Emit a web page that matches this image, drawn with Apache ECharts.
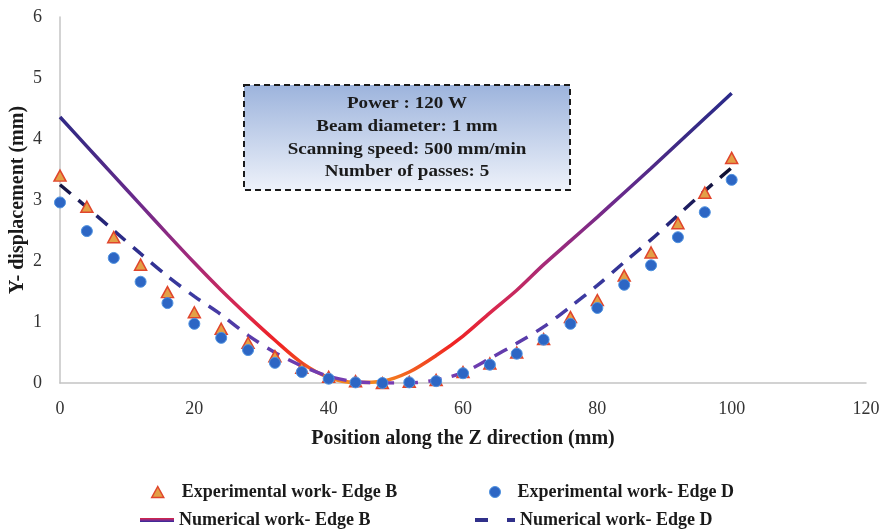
<!DOCTYPE html>
<html>
<head>
<meta charset="utf-8">
<script src="https://cdn.jsdelivr.net/npm/echarts@6/dist/echarts.min.js"></script>
<style>
html,body{margin:0;padding:0;background:#fff;}
#chart{width:885px;height:532px;}
</style>
</head>
<body>
<div id="chart"></div>
<script>
// ---- data ----
var positions = [0,4,8,12,16,20,24,28,32,36,40,44,48,52,56,60,64,68,72,76,80,84,88,92,96,100];
var expEdgeB = [3.40,2.89,2.39,1.94,1.49,1.16,0.89,0.66,0.44,0.25,0.10,0.03,0.00,0.02,0.05,0.18,0.32,0.50,0.72,1.08,1.36,1.76,2.14,2.62,3.12,3.69];
var expEdgeD = [2.96,2.49,2.05,1.66,1.31,0.97,0.74,0.54,0.33,0.18,0.07,0.01,0.00,0.01,0.03,0.16,0.30,0.48,0.71,0.97,1.23,1.61,1.93,2.39,2.80,3.33];
var numEdgeB = [4.36,3.88,3.40,2.92,2.44,1.97,1.52,1.10,0.70,0.33,0.09,0.01,0.03,0.18,0.45,0.77,1.15,1.52,1.94,2.33,2.72,3.12,3.52,3.93,4.34,4.75];
var numEdgeD = [3.25,2.88,2.50,2.12,1.75,1.42,1.12,0.78,0.50,0.28,0.11,0.02,0.00,0.00,0.05,0.17,0.40,0.65,0.92,1.25,1.60,1.98,2.35,2.75,3.15,3.53];
var seriesNames = ['Experimental work- Edge B','Experimental work- Edge D','Numerical work- Edge B','Numerical work- Edge D'];
var xTitle = 'Position along the Z direction (mm)';
var yTitle = 'Y- displacement (mm)';
var boxLines = ['Power : 120 W','Beam diameter: 1 mm','Scanning speed: 500 mm/min','Number of passes: 5'];

function pairs(ys){ return positions.map(function(x,i){ return [x, ys[i]]; }); }

var FONT = '"Liberation Serif","Times New Roman",serif';

var gradB = new echarts.graphic.LinearGradient(0,0,0,1,[
  {offset:0, color:'#2a2a8a'},
  {offset:0.16, color:'#3a2a84'},
  {offset:0.37, color:'#6a2a8c'},
  {offset:0.58, color:'#a42a7a'},
  {offset:0.74, color:'#d82850'},
  {offset:0.86, color:'#f02222'},
  {offset:0.96, color:'#f26220'},
  {offset:1, color:'#f5901e'}
]);
var gradD = new echarts.graphic.LinearGradient(0,0,0,1,[
  {offset:0, color:'#0e0e28'},
  {offset:0.15, color:'#1a1a55'},
  {offset:0.3, color:'#2a2a85'},
  {offset:0.58, color:'#3a3aa0'},
  {offset:0.8, color:'#5c3cab'},
  {offset:1, color:'#7a3cb2'}
]);
var legendLineB = new echarts.graphic.LinearGradient(0,0,0,1,[
  {offset:0, color:'#e0243a'},{offset:0.5, color:'#8a2a8c'},{offset:1, color:'#2a2a9a'}
]);

var legendText = {fontFamily:FONT, fontWeight:'bold', fontSize:18, color:'#1a1a1a'};

var chart = echarts.init(document.getElementById('chart'), null, {renderer:'canvas'});
chart.setOption({
  animation:false,
  backgroundColor:'#ffffff',
  grid:{left:60, right:19, top:17, bottom:149, containLabel:false, outerBoundsMode:'none'},
  xAxis:{
    type:'value', min:0, max:120, interval:20,
    name:xTitle, nameLocation:'middle', nameGap:46, nameMoveOverlap:false,
    nameTextStyle:{fontFamily:FONT, fontWeight:'bold', fontSize:20, color:'#1a1a1a'},
    axisLine:{show:true, lineStyle:{color:'#c4c4c4', width:1.5}},
    axisTick:{show:false},
    splitLine:{show:false},
    axisLabel:{fontFamily:FONT, fontSize:18, color:'#333333', margin:17}
  },
  yAxis:{
    type:'value', min:0, max:6, interval:1,
    name:yTitle, nameLocation:'middle', nameGap:32, nameMoveOverlap:false,
    nameTextStyle:{fontFamily:FONT, fontWeight:'bold', fontSize:20, color:'#1a1a1a'},
    axisLine:{show:true, lineStyle:{color:'#c4c4c4', width:1.5}},
    axisTick:{show:false},
    splitLine:{show:false},
    axisLabel:{fontFamily:FONT, fontSize:18, color:'#333333', margin:18}
  },
  legend:[
    {data:[{name:seriesNames[0], icon:'triangle', itemStyle:{color:'#e3a046', borderColor:'#e0452c', borderWidth:1.5, opacity:1}}],
     left:151, top:483, padding:0, itemWidth:12, itemHeight:11, textStyle:Object.assign({padding:[0,0,0,13]}, legendText), itemGap:0},
    {data:[{name:seriesNames[1], icon:'circle', itemStyle:{color:'#2d66c4', borderColor:'#4f92e0', borderWidth:1, opacity:1}}],
     left:489, top:483, padding:0, itemWidth:11, itemHeight:11, textStyle:Object.assign({padding:[0,0,0,12]}, legendText), itemGap:0},
    {data:[{name:seriesNames[2], icon:'rect', itemStyle:{color:legendLineB, borderWidth:0}}],
     left:140, top:511, padding:0, itemWidth:34, itemHeight:4, textStyle:legendText, itemGap:0},
    {data:[{name:seriesNames[3], icon:'path://M0,0h13v4h-13z M32,0h8v4h-8z', itemStyle:{color:'#30308a', borderWidth:0}}],
     left:475, top:511, padding:0, itemWidth:40, itemHeight:4, textStyle:legendText, itemGap:0}
  ],
  graphic:[{
    type:'group', left:243, top:84, silent:true, z:100,
    children:[
      {type:'rect', shape:{x:0,y:0,width:326,height:105},
       style:{fill:new echarts.graphic.LinearGradient(0,0,0,1,[{offset:0,color:'#9cb3dc'},{offset:1,color:'#eef2fa'}]),
              stroke:'#1a1a1a', lineWidth:2, lineDash:[6,4]}},
      {type:'text', x:163, y:53, scaleX:1.12,
       style:{text:boxLines.join('\n'), fill:'#1a1a1a', font:'bold 17px '+FONT, align:'center', verticalAlign:'middle', lineHeight:22.7}}
    ]
  }],
  series:[
    {name:seriesNames[2], type:'line', data:pairs(numEdgeB), smooth:0.3, showSymbol:false, symbol:'none',
     lineStyle:{color:gradB, width:3.5}, itemStyle:{color:'#6a2a90'}, z:3},
    {name:seriesNames[3], type:'line', data:pairs(numEdgeD), smooth:0.3, showSymbol:false, symbol:'none',
     lineStyle:{color:gradD, width:3.5, type:[14,10]}, itemStyle:{color:'#3a3a98'}, z:4},
    {name:seriesNames[0], type:'scatter', data:pairs(expEdgeB), symbol:'triangle', symbolSize:[12,11],
     itemStyle:{color:'#e3a046', borderColor:'#e0452c', borderWidth:1.5, opacity:1}, z:5},
    {name:seriesNames[1], type:'scatter', data:pairs(expEdgeD), symbol:'circle', symbolSize:11,
     itemStyle:{color:'#2d66c4', borderColor:'#4f92e0', borderWidth:1, opacity:1}, z:6}
  ]
});
</script>
</body>
</html>
